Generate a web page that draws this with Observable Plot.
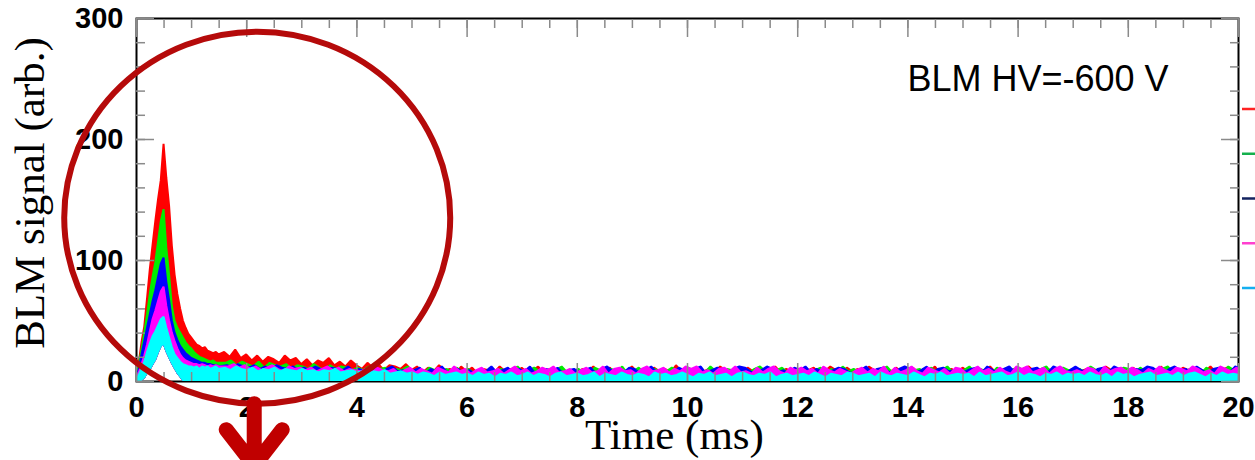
<!DOCTYPE html>
<html>
<head>
<meta charset="utf-8">
<script src="https://cdn.jsdelivr.net/npm/d3@7"></script>
<script src="https://cdn.jsdelivr.net/npm/@observablehq/plot@0.6"></script>
<style>
  html, body { margin: 0; padding: 0; background: #fff; }
  #chart svg { display: block; }
</style>
</head>
<body>
<div id="chart"></div>
<script>
// ---------------- data ----------------
const xTicks = [0, 2, 4, 6, 8, 10, 12, 14, 16, 18, 20];
const xMinorTicks = d3.range(0, 20.001, 0.5);
const yTicks = [0, 100, 200, 300];
const yMinorTicks = d3.range(0, 300.001, 20);

const seriesNames = ["red", "green", "blue", "magenta", "cyan"];
const seriesColors = ["#ff0000", "#00ee00", "#0000ff", "#ff00ff", "#00ffff"];
const legendColors = ["#ff2222", "#14b04c", "#13235f", "#ff3fcf", "#14aff0"];

// peak segment: t = 0 .. 1.5 ms, step 0.05 ms
const peakStep = 0.05;
const redPeak     = [5, 15, 32, 45, 68, 92, 112, 132, 150, 166, 196, 168, 145, 112, 88, 72, 60, 50, 44, 39, 36, 33, 30, 29, 27, 28, 25, 24, 23, 24, 22];
const greenPeak   = [3, 14, 26, 40, 55, 72, 86, 98, 115, 132, 142, 110, 88, 62, 50, 44, 40, 36, 32, 29, 27, 24, 22, 20, 19, 18, 17, 16, 17, 15, 15];
const bluePeak    = [3, 10, 22, 33, 44, 55, 66, 75, 86, 97, 102, 82, 67, 50, 40, 34, 29, 26, 23, 21, 19, 18, 17, 16, 15, 15, 14, 14, 13, 13, 12];
const magentaPeak = [2, 7, 14, 21, 30, 41, 51, 58, 66, 74, 78, 62, 50, 40, 33, 27, 22, 19, 17, 16, 15, 14, 14, 13, 14, 13, 12, 13, 12, 13, 12];
const cyanPeak    = [1, 5, 10, 16, 24, 31, 37, 41, 46, 51, 53, 44, 36, 28, 22, 19, 16, 14, 13, 12, 12, 11, 12, 10, 12, 11, 12, 10, 11, 12, 10];
const floorPeak   = [0, 0, 1, 3, 7, 10, 14, 18, 24, 29, 31, 25, 20, 15, 11, 7, 4, 1, 0, 0, 0, 0, 0, 0, 0, 0, 0, 0, 0, 0, 0];

// tail segment: t = 1.6 .. 20 ms, step 0.1 ms
const tailStart = 1.6;
const tailStep = 0.1;
const tailPhase = [0, 0.025, 0.05, 0.075, 0.0125];
const redTail = [24, 20, 26, 19,
  22, 17, 21, 16, 20, 18, 15, 21, 17, 19,
  14, 18, 13, 17, 15, 19, 13, 16, 12, 17,
  13, 10, 15, 11, 14, 9, 13, 12, 10, 14,
  9, 12, 7, 11, 8, 13, 9, 10, 6, 12,
  8, 11, 6, 10, 9, 7, 12, 8, 10, 6,
  11, 7, 9, 12, 6, 10, 8, 11, 7, 9,
  6, 10, 8, 12, 7, 9, 11, 6, 10, 8,
  12, 7, 9, 6, 11, 8, 10, 7, 13, 8,
  9, 6, 11, 8, 10, 7, 12, 9, 6, 10,
  7, 11, 8, 10, 6, 9, 12, 7, 10, 8,
  10, 7, 9, 11, 6, 8, 12, 9, 7, 11,
  8, 10, 6, 12, 9, 7, 10, 8, 11, 6,
  9, 11, 7, 10, 8, 12, 6, 9, 10, 7,
  11, 8, 10, 6, 9, 12, 7, 10, 8, 9,
  7, 10, 12, 8, 6, 11, 9, 7, 10, 8,
  10, 6, 9, 11, 7, 8, 12, 9, 6, 10,
  8, 11, 7, 9, 10, 6, 12, 8, 9, 7,
  11, 9, 6, 10, 8, 12, 7, 9, 11, 8,
  9];
const greenTail = [15, 17, 13, 16,
  14, 12, 16, 11, 15, 13, 12, 14, 10, 13,
  12, 10, 14, 11, 9, 13, 10, 12, 11, 9,
  11, 9, 12, 8, 10, 11, 7, 10, 9, 12,
  8, 10, 7, 11, 9, 6, 10, 8, 11, 7,
  10, 7, 9, 6, 11, 8, 10, 7, 9, 12,
  7, 9, 11, 8, 6, 10, 9, 12, 7, 8,
  10, 8, 6, 11, 9, 7, 10, 8, 12, 6,
  8, 11, 7, 9, 10, 6, 8, 11, 9, 7,
  11, 8, 9, 7, 12, 8, 6, 10, 9, 11,
  9, 7, 10, 12, 8, 6, 9, 11, 7, 10,
  6, 10, 8, 9, 11, 7, 10, 6, 12, 8,
  10, 7, 11, 8, 6, 9, 12, 7, 9, 10,
  7, 9, 10, 6, 11, 8, 9, 12, 7, 8,
  9, 12, 7, 10, 8, 6, 11, 9, 7, 10,
  11, 8, 9, 7, 10, 12, 6, 8, 11, 9,
  8, 10, 7, 12, 9, 6, 10, 8, 9, 11,
  10, 7, 11, 8, 6, 9, 10, 12, 7, 9,
  7, 10, 9, 6, 11, 8, 10, 7, 12, 9,
  8];
const blueTail = [13, 11, 14, 12,
  11, 13, 10, 12, 9, 13, 11, 10, 12, 9,
  11, 9, 12, 10, 8, 11, 10, 9, 12, 8,
  10, 8, 11, 9, 7, 10, 12, 8, 9, 7,
  9, 11, 6, 10, 8, 12, 7, 9, 10, 6,
  9, 6, 10, 8, 12, 7, 9, 11, 6, 10,
  8, 12, 6, 9, 10, 7, 11, 6, 9, 10,
  7, 9, 11, 6, 10, 12, 8, 9, 7, 11,
  10, 6, 9, 12, 7, 10, 8, 6, 11, 9,
  7, 10, 12, 6, 9, 11, 8, 7, 10, 12,
  11, 8, 6, 9, 12, 10, 7, 9, 6, 11,
  9, 12, 7, 10, 8, 6, 9, 11, 10, 7,
  6, 9, 12, 7, 10, 11, 8, 6, 10, 12,
  10, 7, 9, 12, 6, 10, 11, 8, 9, 6,
  8, 10, 11, 7, 12, 9, 6, 10, 12, 7,
  9, 6, 10, 11, 8, 7, 12, 10, 6, 9,
  12, 9, 8, 6, 10, 11, 7, 12, 10, 6,
  7, 10, 9, 12, 11, 8, 6, 10, 12, 9,
  10, 7, 12, 9, 6, 10, 11, 8, 7, 12,
  10];
const magentaTail = [12, 14, 11, 13,
  10, 12, 9, 11, 13, 10, 8, 12, 10, 11,
  9, 11, 8, 10, 12, 9, 11, 8, 10, 9,
  8, 10, 7, 11, 9, 8, 10, 6, 9, 11,
  7, 10, 8, 6, 11, 9, 7, 12, 8, 10,
  6, 9, 11, 7, 8, 10, 6, 9, 12, 8,
  10, 6, 8, 11, 9, 12, 7, 8, 10, 6,
  9, 11, 7, 8, 12, 6, 10, 11, 8, 9,
  6, 10, 12, 8, 9, 11, 7, 10, 8, 12,
  10, 12, 7, 9, 6, 10, 11, 8, 12, 7,
  8, 6, 11, 7, 10, 12, 8, 6, 11, 9,
  11, 8, 10, 6, 12, 9, 7, 10, 8, 6,
  9, 11, 7, 10, 8, 12, 6, 11, 7, 9,
  12, 8, 6, 11, 9, 7, 10, 6, 11, 10,
  6, 9, 12, 8, 10, 7, 11, 8, 6, 12,
  10, 12, 7, 9, 11, 6, 10, 12, 8, 7,
  9, 7, 11, 10, 6, 12, 8, 10, 11, 8,
  11, 9, 6, 10, 8, 12, 9, 7, 11, 10,
  8, 12, 10, 7, 9, 6, 12, 10, 8, 11,
  7];
const cyanTail = [11, 9, 12, 10,
  9, 11, 8, 10, 9, 11, 8, 10, 9, 8,
  10, 8, 9, 7, 9, 8, 10, 7, 8, 9,
  7, 8, 6, 8, 7, 9, 6, 7, 8, 6,
  7, 5, 7, 6, 4, 7, 5, 6, 7, 5,
  6, 4, 7, 5, 6, 3, 6, 5, 7, 4,
  5, 7, 4, 6, 5, 3, 6, 7, 4, 5,
  6, 4, 5, 7, 3, 6, 5, 4, 7, 5,
  4, 6, 5, 3, 7, 5, 6, 4, 5, 7,
  5, 3, 6, 5, 7, 4, 5, 6, 3, 6,
  7, 5, 4, 6, 5, 7, 3, 5, 6, 4,
  5, 6, 4, 7, 5, 3, 6, 5, 4, 7,
  6, 4, 5, 6, 3, 7, 5, 4, 6, 5,
  4, 7, 5, 3, 6, 5, 7, 4, 5, 6,
  5, 6, 3, 7, 4, 5, 6, 7, 4, 5,
  7, 4, 6, 5, 3, 6, 5, 7, 4, 6,
  5, 6, 4, 7, 5, 4, 6, 3, 7, 5,
  6, 3, 5, 6, 7, 4, 5, 6, 4, 7,
  4, 6, 7, 5, 3, 6, 4, 7, 5, 6,
  5];

const peaks = [redPeak, greenPeak, bluePeak, magentaPeak, cyanPeak];
const tails = [redTail, greenTail, blueTail, magentaTail, cyanTail];

const xLabel = "Time (ms)";
const yLabel = "BLM signal (arb.)";
const hvLabel = "BLM HV=-600 V";
// annotation (data units) – the highlighted peak region
const annotation = {time: 2.2, signal: 135};

// ---------------- build rows ----------------
const seriesRows = seriesNames.map((name, k) => {
  const rows = [];
  peaks[k].forEach((v, i) => rows.push({t: i * peakStep, lo: floorPeak[i], hi: v}));
  tails[k].forEach((v, i) => rows.push({t: tailStart + tailPhase[k] + i * tailStep, lo: 0, hi: v}));
  return rows;
});

const tickFont = {fontFamily: "Liberation Sans, Arial, sans-serif", fontSize: 29, fontWeight: "bold", fill: "black"};
const tickStroke = "#8a8a8a";
const serif = "Liberation Serif, Times New Roman, serif";

const plot = Plot.plot({
  width: 1255,
  height: 460,
  marginLeft: 136,
  marginRight: 17,
  marginTop: 18,
  marginBottom: 79,
  style: {background: "white", overflow: "visible"},
  x: {domain: [0, 20]},
  y: {domain: [0, 300]},
  marks: [
    Plot.frame({stroke: "black", strokeWidth: 2}),
    ...seriesRows.map((rows, k) =>
      Plot.areaY(rows, {x: "t", y1: "lo", y2: "hi", fill: seriesColors[k], stroke: seriesColors[k], strokeWidth: 2, strokeLinejoin: "miter", clip: true})
    ),
    // inward ticks on all four sides
    Plot.axisX({anchor: "bottom", ticks: xMinorTicks, tickSize: -9, fill: "none", stroke: tickStroke, strokeWidth: 1.5, label: null}),
    Plot.axisX({anchor: "bottom", ticks: xTicks, tickSize: -18, fill: "none", stroke: tickStroke, strokeWidth: 1.5, label: null}),
    Plot.axisX({anchor: "top", ticks: xMinorTicks, tickSize: -9, fill: "none", stroke: tickStroke, strokeWidth: 1.5, label: null}),
    Plot.axisX({anchor: "top", ticks: xTicks, tickSize: -18, fill: "none", stroke: tickStroke, strokeWidth: 1.5, label: null}),
    Plot.axisY({anchor: "left", ticks: yMinorTicks, tickSize: -9, fill: "none", stroke: tickStroke, strokeWidth: 1.5, label: null}),
    Plot.axisY({anchor: "left", ticks: yTicks, tickSize: -18, fill: "none", stroke: tickStroke, strokeWidth: 1.5, label: null}),
    Plot.axisY({anchor: "right", ticks: yMinorTicks, tickSize: -9, fill: "none", stroke: tickStroke, strokeWidth: 1.5, label: null}),
    Plot.axisY({anchor: "right", ticks: yTicks, tickSize: -18, fill: "none", stroke: tickStroke, strokeWidth: 1.5, label: null}),
    // tick labels
    Plot.axisX({anchor: "bottom", ticks: xTicks, tickSize: 0, tickPadding: 15, tickFormat: d => String(d), label: null, ...tickFont}),
    Plot.axisY({anchor: "left", ticks: yTicks, tickSize: 0, tickPadding: 13, tickFormat: d => String(d), label: null, ...tickFont}),
    // axis titles
    Plot.text([xLabel], {frameAnchor: "bottom", textAnchor: "middle", lineAnchor: "middle", dx: -13, dy: 54, fontFamily: serif, fontSize: 43, fill: "black"}),
    Plot.text([yLabel], {frameAnchor: "left", textAnchor: "middle", lineAnchor: "middle", rotate: -90, dx: -106, dy: -7, fontFamily: serif, fontSize: 43, fill: "black"}),
    // HV label
    Plot.text([hvLabel], {frameAnchor: "top-right", dx: -70, dy: 47, textAnchor: "end", lineAnchor: "top", fontFamily: "Liberation Sans, Arial, sans-serif", fontSize: 36, fill: "black"})
  ]
});

document.getElementById("chart").appendChild(plot);

// ---------------- overlays (legend stubs, annotation) ----------------
const svgEl = plot.tagName.toLowerCase() === "svg" ? plot : plot.querySelector("svg");
const sx = plot.scale("x"), sy = plot.scale("y");
const svg = d3.select(svgEl);

// truncated legend swatches at the right edge
const legendTop = 109, legendGap = 44.75;
const lx1 = sx.apply(20) + 4;
svg.append("g").selectAll("line").data(legendColors).join("line")
  .attr("x1", lx1).attr("x2", 1255)
  .attr("y1", (d, i) => legendTop + i * legendGap)
  .attr("y2", (d, i) => legendTop + i * legendGap)
  .attr("stroke", d => d).attr("stroke-width", 2.5);

// circle around the peak + arrow
const cx = sx.apply(annotation.time), cy = sy.apply(annotation.signal);
const rx = 193, ry = 186;
svg.append("ellipse")
  .attr("cx", cx).attr("cy", cy).attr("rx", rx).attr("ry", ry)
  .attr("fill", "none").attr("stroke", "#b50a0a").attr("stroke-width", 6);

const ax = cx - 3, ay0 = cy + ry, tipY = ay0 + 62;
const arrowPath = d3.path();
arrowPath.moveTo(ax, ay0); arrowPath.lineTo(ax, tipY);
arrowPath.moveTo(ax - 28, tipY - 36); arrowPath.lineTo(ax, tipY); arrowPath.lineTo(ax + 28, tipY - 36);
svg.append("path").attr("d", arrowPath.toString())
  .attr("fill", "none").attr("stroke", "#c00000").attr("stroke-width", 15)
  .attr("stroke-linecap", "round").attr("stroke-linejoin", "round");
</script>
</body>
</html>
